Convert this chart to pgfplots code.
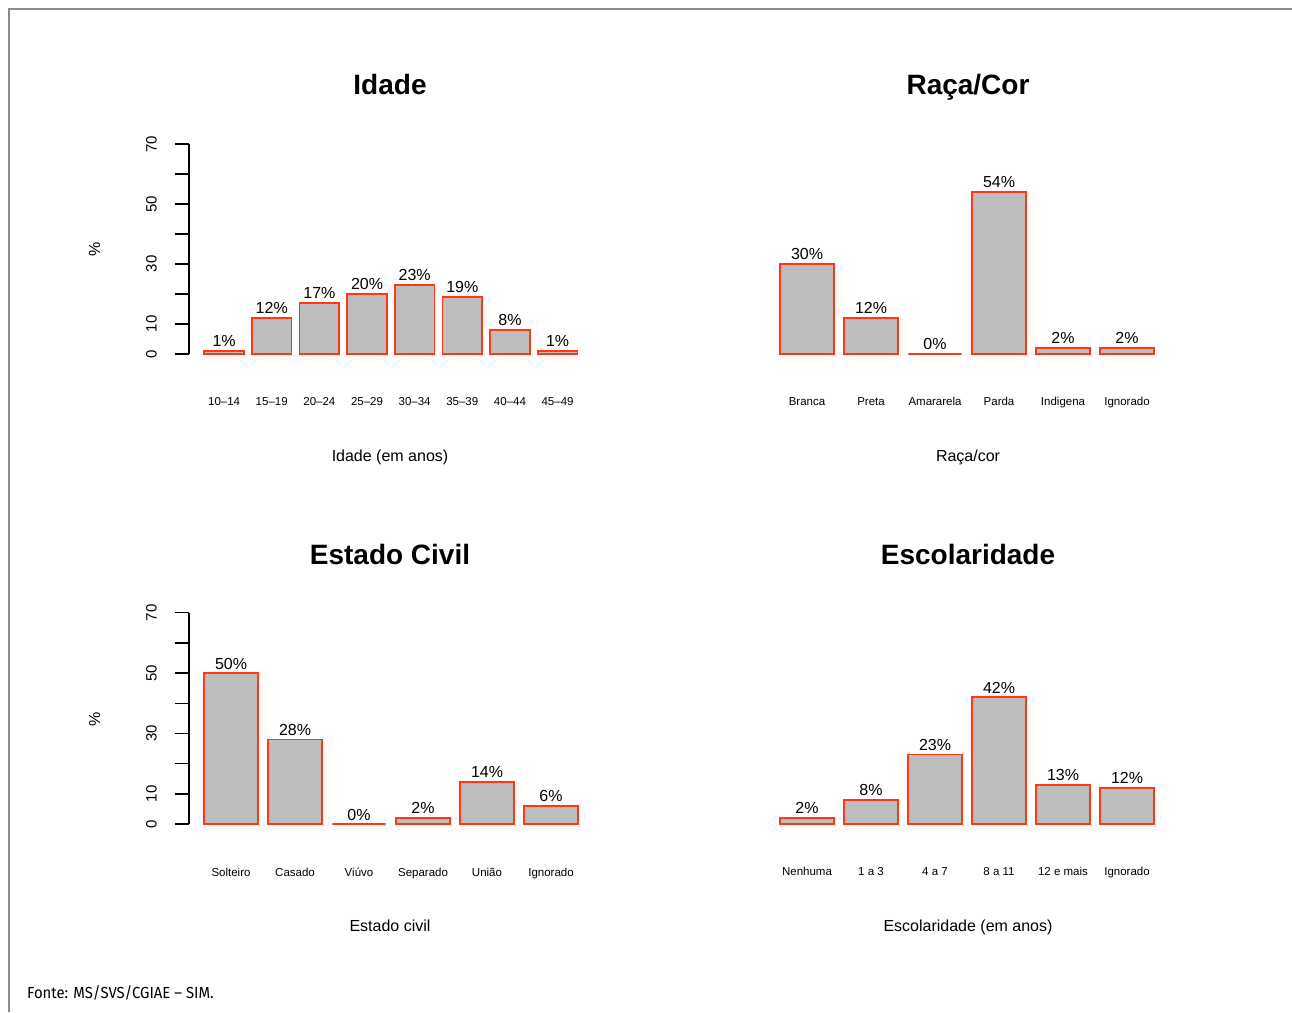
\documentclass[border=0pt]{standalone}
\usepackage{pgfplots}
\pgfplotsset{compat=1.18}
\usepackage{fontspec}
\setmainfont{Liberation Sans}
\newfontfamily\notefont[FakeStretch=0.93]{Fira Sans}

\definecolor{barfill}{HTML}{BEBEBE}
\definecolor{baredge}{HTML}{FF3814}
\definecolor{framegray}{HTML}{8C8C8C}

\pgfplotsset{
  /pgf/number format/assume math mode=true,
  bars/.style={ybar, bar width=1, bar shift=0pt, fill=barfill, draw=baredge, line width=1.8pt},
  panel/.style={
    scale only axis,
    anchor=south west,
    ymin=0, ymax=70,
    clip=false,
    axis lines=left,
    axis line style={-, line width=1.4pt, black},
    x axis line style={draw=none},
    major x tick style={draw=none},
    xtick=data,
    nodes near coords={\pgfmathprintnumber{\pgfplotspointmeta}\%},
    every node near coord/.append style={font=\fontsize{16}{18}\selectfont, black, anchor=base, yshift=4pt},
  },
  withy/.style={
    ytick={0,10,...,70},
    yticklabels={0,10,,30,,50,,70},
    ytick align=outside,
    major tick length=14pt,
    major y tick style={line width=1.4pt, black},
    yticklabel style={font=\fontsize{15}{16}\selectfont, rotate=90, anchor=base, yshift=18.5pt},
    xticklabel style={font=\fontsize{11.5}{12}\selectfont, anchor=base, yshift=-45pt},
  },
  noy/.style={
    ytick=\empty,
    y axis line style={draw=none},
    xticklabel style={font=\fontsize{11.5}{12}\selectfont, anchor=base, yshift=-49pt},
  },
  eight/.style={xmin=-0.184, xmax=10.184, width=411.6pt},
  six/.style={xmin=-0.088, xmax=7.688, width=414.7pt},
}

\begin{document}
\begin{tikzpicture}
\useasboundingbox (0pt,0pt) rectangle (1292pt,1012pt);

% outer frame (top and left edges)
\draw[framegray, line width=1.5pt] (9pt,0pt) -- (9pt,1003pt) -- (1292pt,1003pt);

% ---------- Idade ----------
\begin{axis}[panel, withy, eight, height=210pt, at={(189pt,658pt)},
  xticklabels={10--14,15--19,20--24,25--29,30--34,35--39,40--44,45--49}]
  \addplot[bars] coordinates {(0.7,1) (1.9,12) (3.1,17) (4.3,20) (5.5,23) (6.7,19) (7.9,8) (9.1,1)};
\end{axis}

% ---------- Raça/Cor ----------
\begin{axis}[panel, noy, six, height=210pt, at={(765pt,658pt)},
  xticklabels={Branca,Preta,Amararela,Parda,Indigena,Ignorado}]
  \addplot[bars] coordinates {(0.7,30) (1.9,12) (3.1,0) (4.3,54) (5.5,2) (6.7,2)};
\end{axis}

% ---------- Estado Civil ----------
\begin{axis}[panel, withy, six, height=211.3pt, at={(189pt,188pt)},
  xticklabels={Solteiro,Casado,Viúvo,Separado,União,Ignorado}]
  \addplot[bars] coordinates {(0.7,50) (1.9,28) (3.1,0) (4.3,2) (5.5,14) (6.7,6)};
\end{axis}

% ---------- Escolaridade ----------
\begin{axis}[panel, noy, six, height=211.3pt, at={(765pt,188pt)},
  xticklabels={Nenhuma,1 a 3,4 a 7,8 a 11,12 e mais,Ignorado}]
  \addplot[bars] coordinates {(0.7,2) (1.9,8) (3.1,23) (4.3,42) (5.5,13) (6.7,12)};
\end{axis}

% panel titles
\begin{scope}[every node/.style={font=\fontsize{28}{30}\selectfont\bfseries, anchor=base, inner sep=0pt}]
  \node at (390pt,917pt) {Idade};
  \node at (968pt,917pt) {Raça/Cor};
  \node at (390pt,447pt) {Estado Civil};
  \node at (968pt,447pt) {Escolaridade};
\end{scope}

% axis titles
\begin{scope}[every node/.style={font=\fontsize{16}{18}\selectfont, anchor=base, inner sep=0pt}]
  \node at (390pt,550pt) {Idade (em anos)};
  \node at (968pt,550pt) {Raça/cor};
  \node at (390pt,81pt) {Estado civil};
  \node at (968pt,81pt) {Escolaridade (em anos)};
  \node[rotate=90] at (100pt,763pt) {\%};
  \node[rotate=90] at (100pt,293pt) {\%};
\end{scope}

% source note
\node[anchor=base west, inner sep=0pt, font=\notefont\fontsize{16}{18}\selectfont] at (27pt,14pt) {Fonte: MS/SVS/CGIAE – SIM.};
\end{tikzpicture}
\end{document}
